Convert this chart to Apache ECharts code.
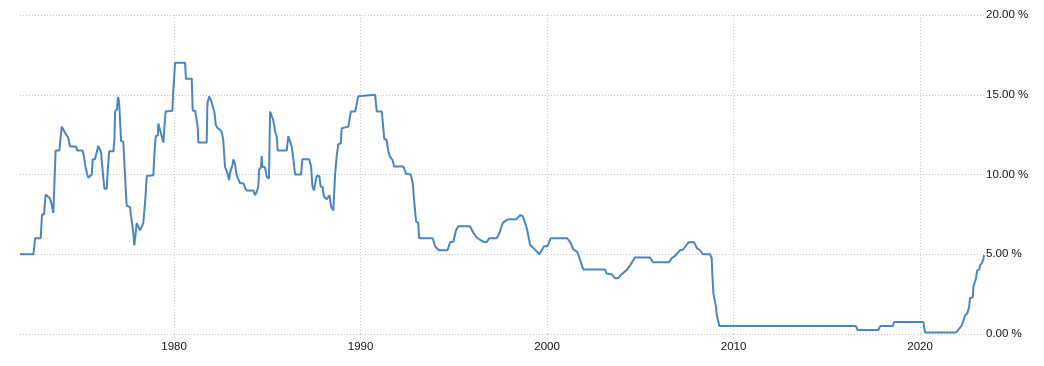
<!DOCTYPE html>
<html>
<head>
<meta charset="utf-8">
<script src="https://cdn.jsdelivr.net/npm/echarts@6/dist/echarts.min.js"></script>
<style>
  html, body { margin: 0; padding: 0; background: #fff; }
  #chart { width: 1044px; height: 366px; }
</style>
</head>
<body>
<div id="chart"></div>
<script>
// corner points of the rate line: [decimal year, rate %]
const rate1970s = [
  [1971.74, 5.0], [1972.46, 5.0], [1972.55, 6.0], [1972.85, 6.0], [1972.92, 7.5], [1973.03, 7.5],
  [1973.06, 8.0], [1973.12, 8.75], [1973.35, 8.5], [1973.44, 8.1], [1973.53, 7.6], [1973.6, 7.6],
  [1973.65, 11.5], [1973.85, 11.5], [1973.91, 12.2], [1973.98, 13.0], [1974.07, 12.8], [1974.16, 12.6],
  [1974.33, 12.3], [1974.42, 11.75], [1974.74, 11.75], [1974.81, 11.5], [1975.1, 11.5], [1975.16, 11.2],
  [1975.23, 10.6], [1975.35, 10.0], [1975.4, 9.8], [1975.59, 10.0], [1975.64, 10.95], [1975.76, 10.95],
  [1975.86, 11.43], [1975.94, 11.8], [1976.0, 11.75], [1976.09, 11.4], [1976.12, 10.9], [1976.21, 9.75],
  [1976.27, 9.1], [1976.39, 9.1], [1976.45, 10.3], [1976.52, 11.45], [1976.75, 11.45], [1976.8, 12.15],
  [1976.84, 13.95], [1976.94, 14.1], [1976.99, 14.85], [1977.03, 14.7], [1977.06, 14.45], [1977.12, 14.4],
  [1977.16, 12.1], [1977.28, 12.05], [1977.34, 10.7], [1977.41, 9.05], [1977.46, 8.05], [1977.64, 7.95],
  [1977.69, 7.45], [1977.75, 7.35], [1977.82, 6.3], [1977.87, 5.55], [1977.92, 5.55], [1978.0, 6.95],
  [1978.08, 6.9], [1978.18, 6.5], [1978.27, 6.5], [1978.35, 6.95], [1978.45, 8.3], [1978.54, 9.9],
  [1978.89, 9.95], [1978.94, 11.15], [1979.02, 12.4], [1979.13, 12.45], [1979.16, 13.2], [1979.2, 13.0],
  [1979.3, 12.9], [1979.43, 12.0], [1979.48, 12.9], [1979.55, 13.95], [1979.91, 14.0], [1979.96, 15.3],
  [1980.0, 15.9]
]
const rate1980s = [
  [1980.05, 17.0], [1980.59, 17.0], [1980.64, 16.0], [1980.95, 16.0], [1981.0, 14.0], [1981.13, 14.0],
  [1981.27, 13.0], [1981.3, 12.0], [1981.75, 12.0], [1981.79, 14.45], [1981.88, 14.9], [1981.93, 14.95],
  [1981.98, 14.65], [1982.08, 14.55], [1982.16, 13.95], [1982.24, 13.1], [1982.34, 12.9], [1982.48, 12.8],
  [1982.56, 12.65], [1982.64, 12.15], [1982.73, 10.5], [1982.83, 10.2], [1982.91, 9.85], [1982.95, 9.65],
  [1983.0, 10.1], [1983.13, 10.6], [1983.18, 10.95], [1983.27, 10.65], [1983.36, 9.95], [1983.45, 9.9],
  [1983.54, 9.45], [1983.72, 9.45], [1983.81, 9.15], [1983.9, 9.0], [1984.25, 9.0], [1984.34, 8.7],
  [1984.43, 8.9], [1984.52, 9.25], [1984.56, 10.3], [1984.66, 10.45], [1984.7, 11.15], [1984.73, 10.5],
  [1984.88, 10.45], [1984.97, 9.85], [1985.09, 9.75], [1985.15, 13.95], [1985.24, 13.95], [1985.32, 13.4],
  [1985.42, 12.7], [1985.51, 12.35], [1985.56, 11.5], [1986.04, 11.5], [1986.13, 12.4], [1986.2, 12.4],
  [1986.31, 11.75], [1986.4, 10.95], [1986.49, 10.0], [1986.81, 10.0], [1986.88, 10.95], [1987.24, 10.95],
  [1987.35, 10.5], [1987.42, 9.25], [1987.5, 9.0], [1987.56, 9.0], [1987.65, 9.9], [1987.79, 9.9],
  [1987.86, 9.25], [1987.97, 9.2], [1988.04, 8.6], [1988.19, 8.45], [1988.33, 8.7], [1988.42, 8.0],
  [1988.54, 7.75], [1988.63, 9.9], [1988.72, 11.15], [1988.81, 11.9], [1988.94, 11.95], [1988.99, 12.9],
  [1989.35, 13.0], [1989.48, 13.95], [1989.71, 13.95], [1989.8, 14.45], [1989.88, 14.9], [1989.94, 15.0]
]
const rate1990s = [
  [1990.78, 15.0], [1990.87, 13.95], [1991.14, 13.95], [1991.27, 12.25], [1991.4, 12.15], [1991.49, 11.45],
  [1991.58, 11.1], [1991.72, 10.9], [1991.8, 10.5], [1992.3, 10.5], [1992.44, 10.05], [1992.69, 10.0],
  [1992.8, 9.45], [1992.87, 8.4], [1992.98, 7.05], [1993.1, 6.95], [1993.14, 6.0], [1993.87, 6.0],
  [1994.0, 5.5], [1994.19, 5.25], [1994.66, 5.25], [1994.8, 5.75], [1994.98, 5.8], [1995.12, 6.5],
  [1995.25, 6.75], [1995.87, 6.75], [1996.05, 6.35], [1996.23, 6.05], [1996.55, 5.8], [1996.76, 5.75],
  [1996.9, 6.0], [1997.3, 6.0], [1997.44, 6.3], [1997.62, 6.95], [1997.83, 7.15], [1997.97, 7.2],
  [1998.37, 7.2], [1998.55, 7.45], [1998.69, 7.4], [1998.82, 7.0], [1998.94, 6.5], [1999.09, 5.6],
  [1999.3, 5.35], [1999.59, 5.0], [1999.84, 5.5]
]
const rate2000s = [
  [2000.02, 5.5], [2000.19, 6.0], [2001.09, 6.0], [2001.27, 5.7], [2001.41, 5.3], [2001.62, 5.15],
  [2001.77, 4.65], [2001.94, 4.05], [2003.1, 4.05], [2003.19, 3.8], [2003.46, 3.75], [2003.64, 3.5],
  [2003.82, 3.5], [2004.0, 3.75], [2004.3, 4.05], [2004.48, 4.35], [2004.71, 4.8], [2005.51, 4.8],
  [2005.69, 4.5], [2006.55, 4.5], [2006.68, 4.75], [2006.86, 4.9], [2007.13, 5.25], [2007.3, 5.3],
  [2007.58, 5.75], [2007.88, 5.75], [2008.06, 5.35], [2008.2, 5.25], [2008.36, 5.0], [2008.74, 5.0],
  [2008.83, 4.75], [2008.86, 3.8], [2008.92, 2.55], [2009.01, 2.45], [2009.06, 1.7], [2009.1, 1.2],
  [2009.19, 1.1], [2009.24, 0.5]
]
const rate2010s = [
  [2016.57, 0.5], [2016.64, 0.25], [2017.77, 0.25], [2017.86, 0.5], [2018.54, 0.5], [2018.61, 0.75],
  [2020.18, 0.75], [2020.27, 0.1], [2021.93, 0.1], [2022.05, 0.25], [2022.24, 0.55], [2022.32, 0.8],
  [2022.41, 1.15], [2022.54, 1.3], [2022.63, 1.7], [2022.68, 2.25], [2022.83, 2.3], [2022.86, 2.95],
  [2022.95, 3.0], [2023.0, 3.5], [2023.07, 4.0], [2023.18, 4.05], [2023.22, 4.3], [2023.31, 4.45],
  [2023.39, 4.65], [2023.43, 4.95]
]
const yearTicks = [1980, 1990, 2000, 2010, 2020]
const rateTicks = [0, 5, 10, 15, 20]

const rateData = [].concat(rate1970s, rate1980s, rate1990s, rate2000s, rate2010s)

const chart = echarts.init(document.getElementById('chart'))
const dotted = { color: '#c8c8c8', type: [1, 2], width: 1 }
const labelFont = {
  color: '#111',
  fontSize: 11.5,
  fontFamily: 'Liberation Sans, Arial, sans-serif',
}
chart.setOption({
  animation: false,
  grid: { left: 20, right: 60, top: 15, bottom: 32 },
  xAxis: {
    type: 'value',
    min: rateData[0][0],
    max: rateData[rateData.length - 1][0],
    axisLine: { show: false },
    axisTick: { show: true, customValues: yearTicks, length: 4, lineStyle: dotted },
    splitLine: { show: true, lineStyle: dotted },
    axisLabel: {
      ...labelFont,
      customValues: yearTicks,
      margin: 7,
      formatter: v => String(v),
    },
  },
  yAxis: {
    type: 'value',
    position: 'right',
    min: rateTicks[0],
    max: rateTicks[rateTicks.length - 1],
    interval: 5,
    axisLine: { show: false },
    axisTick: { show: false },
    splitLine: { show: true, lineStyle: dotted },
    axisLabel: {
      ...labelFont,
      margin: 2,
      padding: [4, 0, 0, 0],
      formatter: v => v.toFixed(2) + ' %',
    },
  },
  series: [
    {
      type: 'line',
      data: rateData,
      showSymbol: false,
      symbol: 'none',
      sampling: null,
      lineStyle: { color: '#4a86be', width: 2 },
      itemStyle: { color: '#4a86be' },
    },
  ],
})
</script>
</body>
</html>
